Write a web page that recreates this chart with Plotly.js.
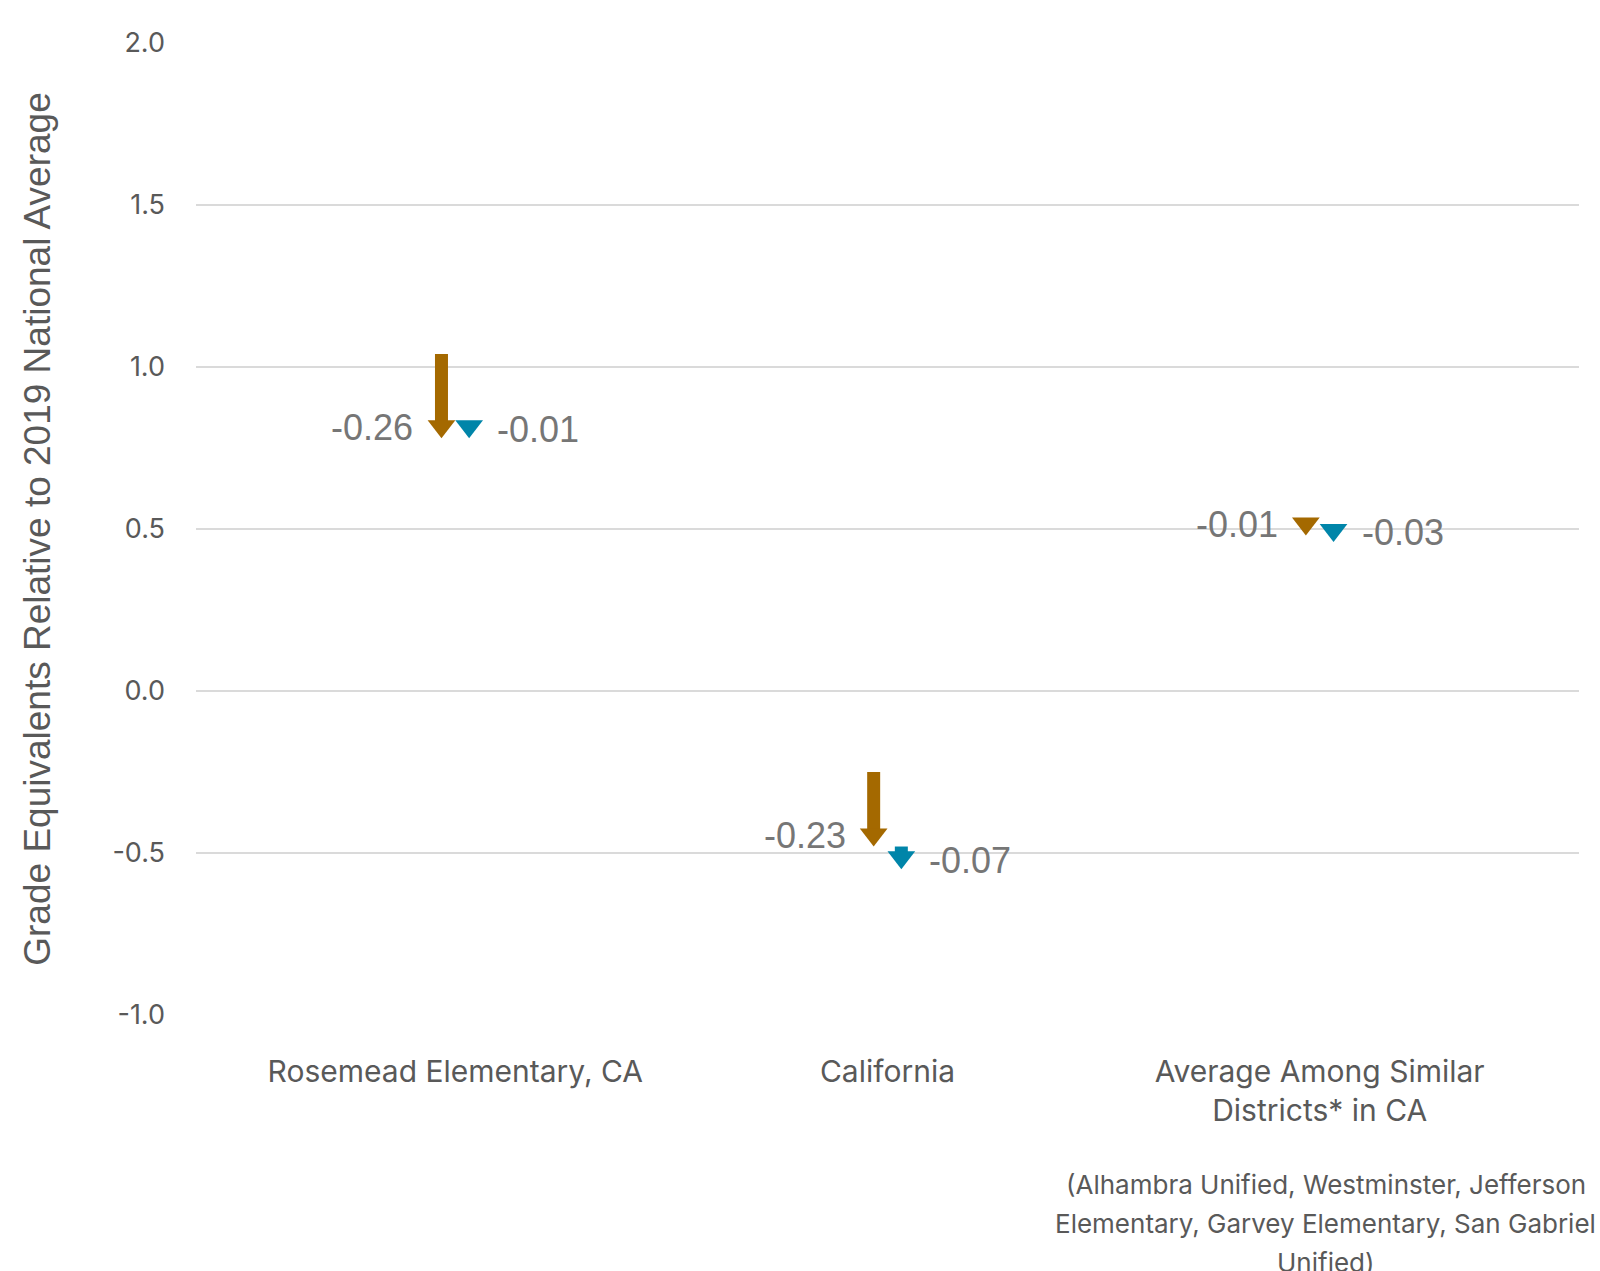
<!DOCTYPE html>
<html><head><meta charset="utf-8">
<script src="https://cdn.plot.ly/plotly-3.0.1.min.js"></script>
<style>html,body{margin:0;padding:0;background:#fff}</style>
</head><body><div id="chart" style="width:1600px;height:1271px"></div>
<script>
const categories = ["Rosemead Elementary, CA", "California", "Average Among Similar<br>Districts* in CA"];
const orangeStart = [1.04, -0.25, 0.49];
const orangeEnd = [0.78, -0.48, 0.48];
const orangeChange = ["-0.26", "-0.23", "-0.01"];
const blueStart = [0.79, -0.48, 0.49];
const blueEnd = [0.78, -0.55, 0.46];
const blueChange = ["-0.01", "-0.07", "-0.03"];
const noteLines = ["(Alhambra Unified, Westminster, Jefferson", "Elementary, Garvey Elementary, San Gabriel", "Unified)"];
const yTicks = [-1.0, -0.5, 0.0, 0.5, 1.0, 1.5, 2.0];
const yTickText = ["-1.0", "-0.5", "0.0", "0.5", "1.0", "1.5", "2.0"];

const ORANGE = '#A46900';
const BLUE = '#0085A9';
const GREY = '#595959';
const LABEL = '#767676';
const catIdx = categories.map((c, i) => i);
const dx = 0.032;

const W = 1600, H = 1271;
const margin = {l: 196, r: 21, t: 43, b: 256};
const yRange = [-1, 2];
const pxPerUnit = (H - margin.t - margin.b) / (yRange[1] - yRange[0]);
const headSize = 24;                 // marker size (px)
const headLen = 0.75 * headSize;     // triangle height (px)
const shaftWidth = 13;

function shaftTrace(xs, starts, ends, color) {
  const x = [], y = [];
  xs.forEach((xv, i) => {
    const stop = ends[i] + (headLen - 2) / pxPerUnit;
    if (starts[i] > stop) { x.push(xv, xv, null); y.push(starts[i], stop, null); }
  });
  return {x, y, mode: 'lines', line: {color, width: shaftWidth}, hoverinfo: 'skip', showlegend: false};
}
function headTrace(xs, ends, color) {
  return {x: xs, y: ends, mode: 'markers', hoverinfo: 'skip', showlegend: false,
    marker: {symbol: 'triangle-up', angle: 180, standoff: headSize / 2, size: headSize, color, line: {width: 0}}};
}

const xo = catIdx.map(i => i - dx);
const xb = catIdx.map(i => i + dx);
const traces = [
  shaftTrace(xo, orangeStart, orangeEnd, ORANGE),
  headTrace(xo, orangeEnd, ORANGE),
  shaftTrace(xb, blueStart, blueEnd, BLUE),
  headTrace(xb, blueEnd, BLUE)
];

const ann = [];
catIdx.forEach(i => {
  ann.push({x: xo[i], y: orangeEnd[i], xref: 'x', yref: 'y', text: orangeChange[i], showarrow: false,
    xanchor: 'right', yanchor: 'middle', xshift: -26, yshift: 11,
    font: {family: 'Liberation Sans, Arial, sans-serif', size: 36, color: LABEL}});
  ann.push({x: xb[i], y: blueEnd[i], xref: 'x', yref: 'y', text: blueChange[i], showarrow: false,
    xanchor: 'left', yanchor: 'middle', xshift: 26, yshift: 9,
    font: {family: 'Liberation Sans, Arial, sans-serif', size: 36, color: LABEL}});
});
noteLines.forEach((t, k) => {
  ann.push({x: 2, y: 0, xref: 'x', yref: 'paper', text: t, showarrow: false, xanchor: 'center', yanchor: 'middle',
    xshift: 6, yshift: -169 - 39 * k, font: {family: 'Inter, sans-serif', size: 26, color: GREY}});
});

const layout = {
  width: W, height: H, margin,
  paper_bgcolor: '#fff', plot_bgcolor: '#fff',
  showlegend: false,
  xaxis: {range: [-0.6, 2.6], tickvals: catIdx, ticktext: categories, showgrid: false, zeroline: false,
    showline: false, ticks: '', ticklabelstandoff: 36,
    tickfont: {family: 'Inter, sans-serif', size: 30, color: GREY}},
  yaxis: {range: yRange, tickvals: yTicks, ticktext: yTickText, showgrid: true, gridcolor: '#DADADA', gridwidth: 2,
    zeroline: false, showline: false, ticks: '', ticklabelstandoff: 30,
    tickfont: {family: 'Inter, sans-serif', size: 27, color: GREY},
    title: {text: 'Grade Equivalents Relative to 2019 National Average', standoff: 50,
      font: {family: 'Liberation Sans, Arial, sans-serif', size: 37, color: GREY}}},
  annotations: ann
};
Plotly.newPlot('chart', traces, layout, {staticPlot: true});
</script></body></html>
